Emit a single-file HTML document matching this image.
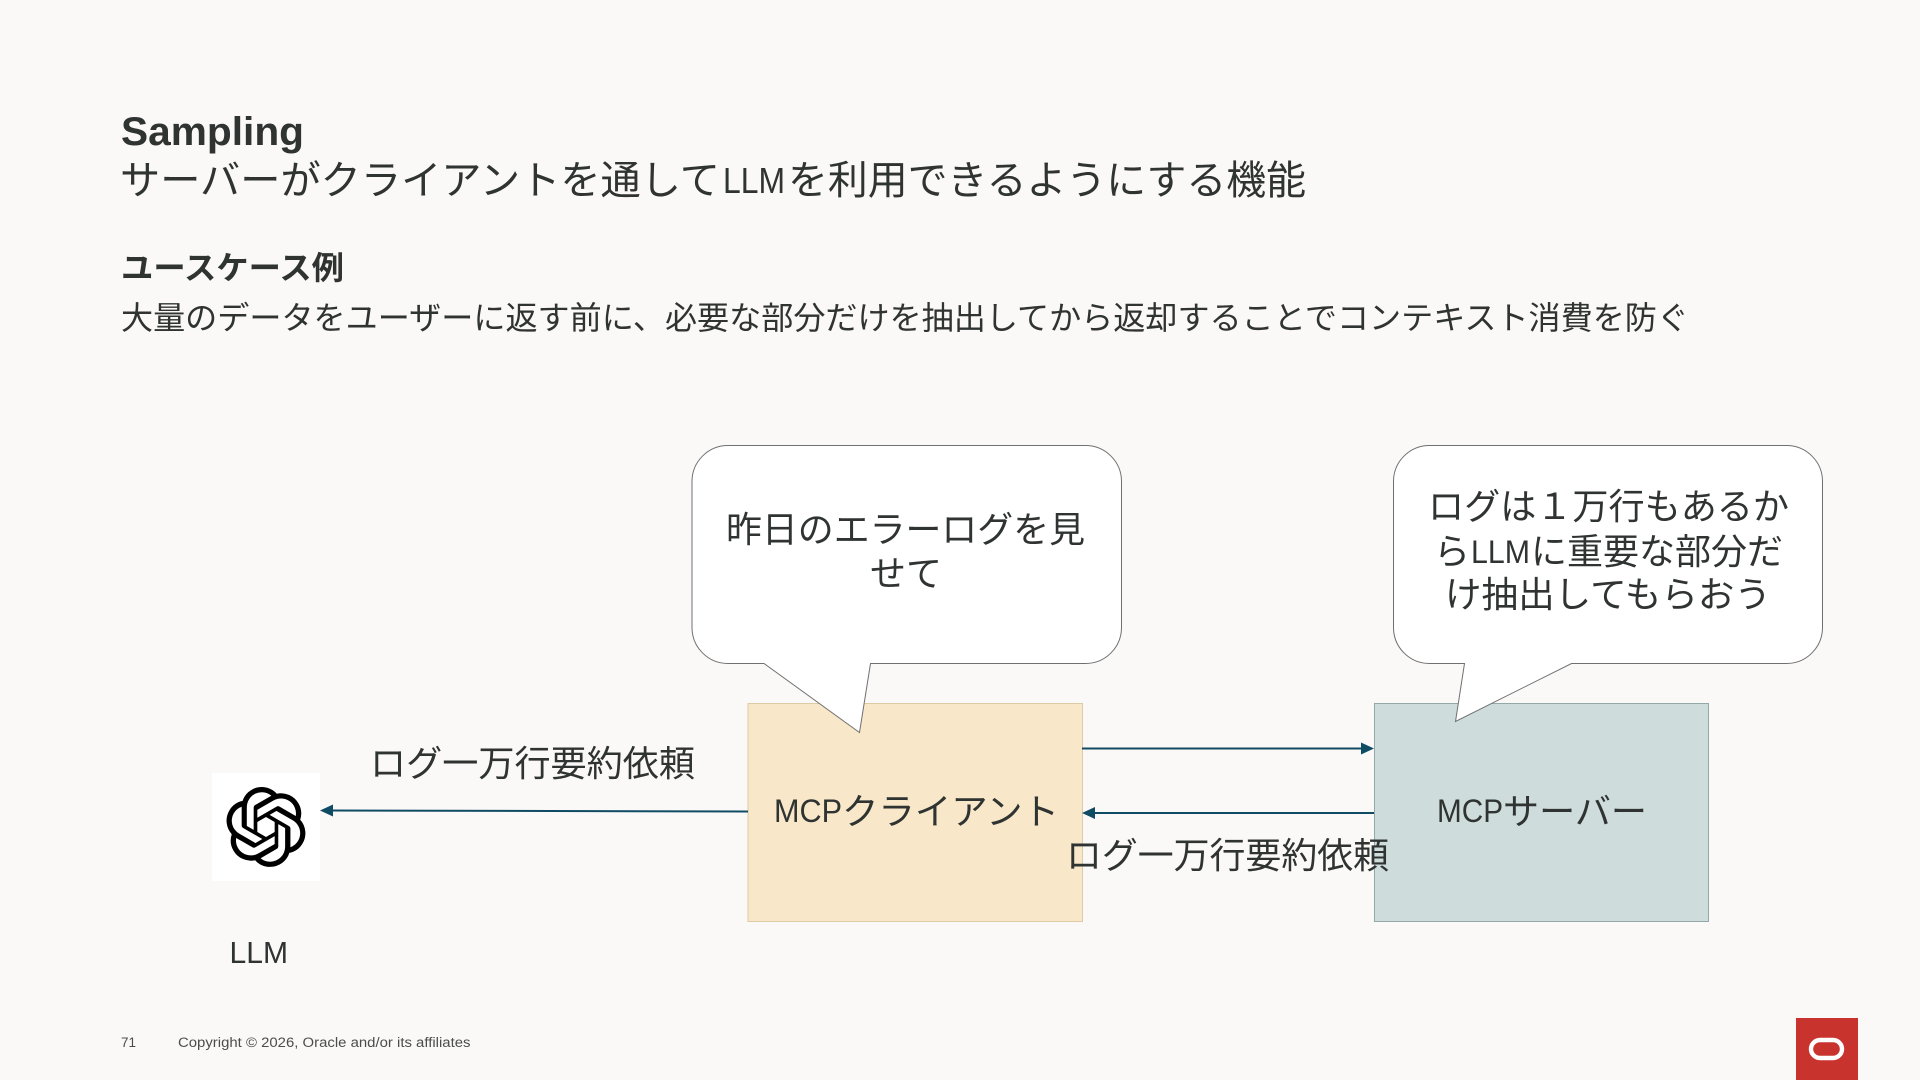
<!DOCTYPE html>
<html lang="ja">
<head>
<meta charset="utf-8">
<title>Sampling</title>
<style>
html,body{margin:0;padding:0;width:1920px;height:1080px;overflow:hidden;background:#fbf9f8}
svg{display:block}
text{font-family:"Liberation Sans","Noto Sans CJK JP",sans-serif;fill:#2f3331;font-weight:400}
.j{font-family:"Noto Sans CJK JP","Liberation Sans",sans-serif}
.b{font-weight:700}
</style>
</head>
<body>
<svg width="1920" height="1080" viewBox="0 0 1920 1080" xmlns="http://www.w3.org/2000/svg">
<rect width="1920" height="1080" fill="#fbf9f8"/>

<text x="121" y="145" font-size="40" class="b" textLength="183" lengthAdjust="spacingAndGlyphs">Sampling</text>
<text x="120" y="194" font-size="40" class="j" textLength="600" lengthAdjust="spacingAndGlyphs">サーバーがクライアントを通して</text>
<text x="723" y="193" font-size="36" textLength="62" lengthAdjust="spacingAndGlyphs">LLM</text>
<text x="788" y="194" font-size="40" class="j" textLength="518" lengthAdjust="spacingAndGlyphs">を利用できるようにする機能</text>

<text x="121" y="279" font-size="32" class="j b" textLength="223" lengthAdjust="spacingAndGlyphs">ユースケース例</text>
<text x="121" y="329" font-size="32" class="j" textLength="1568" lengthAdjust="spacingAndGlyphs">大量のデータをユーザーに返す前に、必要な部分だけを抽出してから返却することでコンテキスト消費を防ぐ</text>

<!-- boxes -->
<rect x="748" y="703.5" width="334.5" height="218" fill="#f8e7c9" stroke="#dccba4" stroke-width="1"/>
<rect x="1374.5" y="703.5" width="334" height="218" fill="#cfdcdc" stroke="#93a8a8" stroke-width="1"/>

<!-- bubbles -->
<path d="M728 445.5H1085.5A36 36 0 0 1 1121.5 481.5V627.5A36 36 0 0 1 1085.5 663.5H870.5L859.5 732.5L764 663.5H728A36 36 0 0 1 692 627.5V481.5A36 36 0 0 1 728 445.5Z" fill="#ffffff" stroke="#707070" stroke-width="1"/>
<path d="M1429.5 445.5H1786.5A36 36 0 0 1 1822.5 481.5V627.5A36 36 0 0 1 1786.5 663.5H1571.5L1455.5 721.5L1464.5 663.5H1429.5A36 36 0 0 1 1393.5 627.5V481.5A36 36 0 0 1 1429.5 445.5Z" fill="#ffffff" stroke="#707070" stroke-width="1"/>

<!-- bubble text -->
<text x="726" y="542" font-size="36" class="j" textLength="359" lengthAdjust="spacingAndGlyphs">昨日のエラーログを見</text>
<text x="870" y="586" font-size="36" class="j" textLength="72" lengthAdjust="spacingAndGlyphs">せて</text>

<text x="1428" y="519" font-size="36" class="j" textLength="361" lengthAdjust="spacingAndGlyphs">ログは１万行もあるか</text>
<text x="1434" y="564" font-size="36" class="j" textLength="36" lengthAdjust="spacingAndGlyphs">ら</text>
<text x="1471" y="563" font-size="32" textLength="59" lengthAdjust="spacingAndGlyphs">LLM</text>
<text x="1531" y="564" font-size="36" class="j" textLength="252" lengthAdjust="spacingAndGlyphs">に重要な部分だ</text>
<text x="1445" y="607" font-size="36" class="j" textLength="326" lengthAdjust="spacingAndGlyphs">け抽出してもらおう</text>

<!-- box labels -->
<text x="774" y="822" font-size="32" textLength="68" lengthAdjust="spacingAndGlyphs">MCP</text>
<text x="842" y="824" font-size="36" class="j" textLength="217" lengthAdjust="spacingAndGlyphs">クライアント</text>
<text x="1437" y="822" font-size="32" textLength="66" lengthAdjust="spacingAndGlyphs">MCP</text>
<text x="1503" y="824" font-size="36" class="j" textLength="144" lengthAdjust="spacingAndGlyphs">サーバー</text>

<!-- connectors -->
<line x1="1082" y1="748.5" x2="1364" y2="748.5" stroke="#0f4b62" stroke-width="2"/>
<polygon points="1374,748.5 1361,742.5 1361,754.5" fill="#0f4b62"/>
<line x1="1374" y1="813" x2="1092" y2="813" stroke="#0f4b62" stroke-width="2"/>
<polygon points="1082,813 1095,807 1095,819" fill="#0f4b62"/>
<line x1="748" y1="811.5" x2="330" y2="810.5" stroke="#0f4b62" stroke-width="2"/>
<polygon points="320,810.5 333,804.5 333,816.5" fill="#0f4b62"/>

<!-- connector labels -->
<text x="370" y="776" font-size="36" class="j" textLength="325" lengthAdjust="spacingAndGlyphs">ログ一万行要約依頼</text>
<text x="1066" y="868" font-size="36" class="j" textLength="323" lengthAdjust="spacingAndGlyphs">ログ一万行要約依頼</text>

<!-- LLM icon -->
<rect x="212" y="773" width="108" height="108" fill="#ffffff"/>
<g transform="translate(226,787) scale(3.33)">
<path fill="#000" d="M22.2819 9.8211a5.9847 5.9847 0 0 0-.5157-4.9108 6.0462 6.0462 0 0 0-6.5098-2.9A6.0651 6.0651 0 0 0 4.9807 4.1818a5.9847 5.9847 0 0 0-3.9977 2.9 6.0462 6.0462 0 0 0 .7427 7.0966 5.98 5.98 0 0 0 .511 4.9107 6.051 6.051 0 0 0 6.5146 2.9001A5.9847 5.9847 0 0 0 13.2599 24a6.0557 6.0557 0 0 0 5.7718-4.2058 5.9894 5.9894 0 0 0 3.9977-2.9001 6.0557 6.0557 0 0 0-.7475-7.0729zm-9.022 12.6081a4.4755 4.4755 0 0 1-2.8764-1.0408l.1419-.0804 4.7783-2.7582a.7948.7948 0 0 0 .3927-.6813v-6.7369l2.02 1.1686a.071.071 0 0 1 .038.052v5.5826a4.504 4.504 0 0 1-4.4945 4.4944zm-9.6607-4.1254a4.4708 4.4708 0 0 1-.5346-3.0137l.142.0852 4.783 2.7582a.7712.7712 0 0 0 .7806 0l5.8428-3.3685v2.3324a.0804.0804 0 0 1-.0332.0615L9.74 19.9502a4.4992 4.4992 0 0 1-6.1408-1.6464zM2.3408 7.8956a4.485 4.485 0 0 1 2.3655-1.9728V11.6a.7664.7664 0 0 0 .3879.6765l5.8144 3.3543-2.0201 1.1685a.0757.0757 0 0 1-.071 0l-4.8303-2.7865A4.504 4.504 0 0 1 2.3408 7.872zm16.5963 3.8558L13.1038 8.364 15.1192 7.2a.0757.0757 0 0 1 .071 0l4.8303 2.7913a4.4944 4.4944 0 0 1-.6765 8.1042v-5.6772a.79.79 0 0 0-.407-.667zm2.0107-3.0231l-.142-.0852-4.7735-2.7818a.7759.7759 0 0 0-.7854 0L9.409 9.2297V6.8974a.0662.0662 0 0 1 .0284-.0615l4.8303-2.7866a4.4992 4.4992 0 0 1 6.6802 4.66zM8.3065 12.863l-2.02-1.1638a.0804.0804 0 0 1-.038-.0567V6.0742a4.4992 4.4992 0 0 1 7.3757-3.4537l-.142.0805L8.704 5.459a.7948.7948 0 0 0-.3927.6813zm1.0976-2.3654l2.602-1.4998 2.6069 1.4998v2.9994l-2.5974 1.4997-2.6067-1.4997Z"/>
</g>
<text x="229.5" y="963" font-size="31" textLength="58.5" lengthAdjust="spacingAndGlyphs">LLM</text>

<!-- footer -->
<text x="121" y="1047" font-size="13.5" style="fill:#4a4d4b" textLength="15" lengthAdjust="spacingAndGlyphs">71</text>
<text x="178" y="1047" font-size="13.5" style="fill:#4a4d4b" textLength="292.5" lengthAdjust="spacingAndGlyphs">Copyright © 2026, Oracle and/or its affiliates</text>

<!-- logo -->
<rect x="1796" y="1018" width="62" height="62" fill="#c8332d"/>
<rect x="1811" y="1040" width="31" height="18" rx="9" ry="9" fill="none" stroke="#ffffff" stroke-width="4.4"/>
</svg>
</body>
</html>
